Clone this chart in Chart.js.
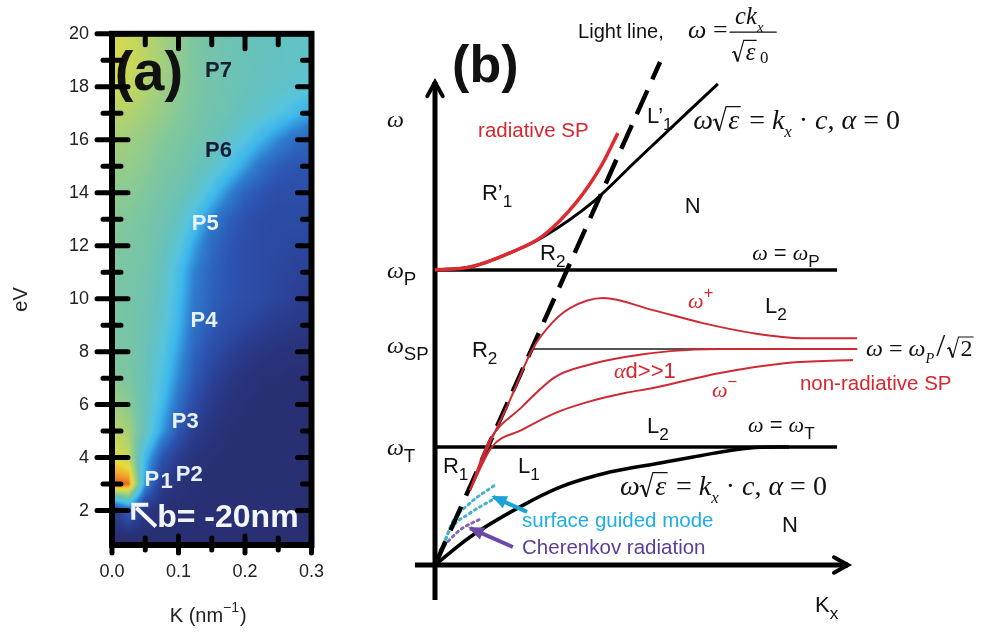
<!DOCTYPE html>
<html>
<head>
<meta charset="utf-8">
<script src="https://cdn.jsdelivr.net/npm/chart.js@4.4.0/dist/chart.umd.min.js"></script>
<style>
body { margin: 0; background: #fff; width: 982px; height: 632px; position: relative; overflow: hidden; }
canvas { position: absolute; top: 0; }
#chartA { left: 0; }
#chartB { left: 340px; }
</style>
</head>
<body>
<canvas id="chartA" width="340" height="632"></canvas>
<canvas id="chartB" width="642" height="632"></canvas>
<script>
const SANS = '"Liberation Sans", Arial, sans-serif';
const SERIF = '"Liberation Serif", "Times New Roman", serif';
const RED = '#d9262e';
const CYAN = '#1eaee6';
const PURPLE = '#5a3d99';

// ---- panel (a) : loss map, K (nm^-1) vs eV ----
const kGrid = [0, 0.025, 0.05, 0.075, 0.1, 0.125, 0.15, 0.175, 0.2, 0.225, 0.25, 0.275, 0.3];
const evGrid = [20, 19, 18, 17, 16, 15, 14, 13, 12, 11, 10, 9, 8, 7, 6, 5, 4, 3, 2, 1];
const intensity = [
    [0.90, 0.88, 0.84, 0.80, 0.76, 0.72, 0.69, 0.67, 0.65, 0.64, 0.63, 0.62, 0.62],
    [0.92, 0.89, 0.85, 0.80, 0.76, 0.72, 0.69, 0.67, 0.65, 0.64, 0.63, 0.62, 0.61],
    [0.90, 0.87, 0.83, 0.79, 0.75, 0.72, 0.69, 0.67, 0.65, 0.63, 0.62, 0.60, 0.58],
    [0.85, 0.83, 0.80, 0.77, 0.74, 0.71, 0.68, 0.66, 0.63, 0.60, 0.56, 0.50, 0.44],
    [0.81, 0.79, 0.77, 0.74, 0.72, 0.69, 0.66, 0.62, 0.56, 0.48, 0.40, 0.33, 0.30],
    [0.78, 0.77, 0.75, 0.72, 0.70, 0.66, 0.62, 0.54, 0.44, 0.34, 0.28, 0.25, 0.25],
    [0.76, 0.75, 0.73, 0.70, 0.67, 0.62, 0.52, 0.40, 0.30, 0.25, 0.22, 0.22, 0.22],
    [0.74, 0.73, 0.71, 0.68, 0.63, 0.52, 0.38, 0.29, 0.24, 0.21, 0.20, 0.20, 0.20],
    [0.73, 0.72, 0.70, 0.66, 0.58, 0.44, 0.32, 0.26, 0.22, 0.20, 0.19, 0.18, 0.18],
    [0.72, 0.71, 0.69, 0.64, 0.52, 0.38, 0.30, 0.25, 0.22, 0.20, 0.18, 0.16, 0.15],
    [0.71, 0.70, 0.68, 0.62, 0.50, 0.36, 0.29, 0.25, 0.22, 0.20, 0.17, 0.14, 0.12],
    [0.71, 0.70, 0.67, 0.60, 0.48, 0.34, 0.27, 0.22, 0.18, 0.14, 0.11, 0.09, 0.08],
    [0.72, 0.71, 0.66, 0.57, 0.44, 0.30, 0.22, 0.16, 0.10, 0.07, 0.05, 0.04, 0.04],
    [0.74, 0.72, 0.65, 0.54, 0.40, 0.26, 0.16, 0.09, 0.05, 0.03, 0.03, 0.02, 0.02],
    [0.79, 0.75, 0.65, 0.50, 0.34, 0.20, 0.10, 0.05, 0.03, 0.02, 0.02, 0.02, 0.02],
    [0.86, 0.80, 0.64, 0.44, 0.26, 0.12, 0.06, 0.03, 0.02, 0.02, 0.02, 0.02, 0.02],
    [0.94, 0.86, 0.50, 0.26, 0.12, 0.05, 0.03, 0.02, 0.02, 0.02, 0.02, 0.02, 0.02],
    [1.12, 1.10, 0.42, 0.12, 0.05, 0.03, 0.02, 0.02, 0.02, 0.02, 0.02, 0.02, 0.02],
    [0.10, 0.30, 0.08, 0.03, 0.02, 0.02, 0.02, 0.02, 0.02, 0.02, 0.02, 0.02, 0.02],
    [0.02, 0.02, 0.02, 0.02, 0.02, 0.02, 0.02, 0.02, 0.02, 0.02, 0.02, 0.02, 0.02]
];
const kTickLabels = [0, 0.1, 0.2, 0.3];
const evTickLabels = [2, 4, 6, 8, 10, 12, 14, 16, 18, 20];

// peak names and where they sit on the map
const peakNames = ['P7', 'P6', 'P5', 'P4', 'P3', 'P2'];
const peakK = [0.140, 0.140, 0.120, 0.118, 0.090, 0.096];
const peakEv = [18.38, 15.33, 12.60, 8.92, 5.13, 3.11];
const peakColors = ['#1a1f33', '#141b3a', '#e6f2f6', '#e6f2f6', '#e6f2f6', '#e6f2f6'];

// colour scale (value -> rgb)
const cmapStops = [
    [0.00, [40, 45, 110]],
    [0.12, [42, 60, 142]],
    [0.25, [44, 84, 176]],
    [0.38, [46, 126, 208]],
    [0.48, [60, 182, 236]],
    [0.56, [86, 196, 222]],
    [0.64, [102, 193, 188]],
    [0.72, [124, 198, 162]],
    [0.80, [164, 207, 124]],
    [0.88, [202, 216, 88]],
    [0.95, [232, 220, 60]],
    [1.02, [244, 176, 48]],
    [1.10, [238, 106, 36]],
    [1.20, [200, 42, 28]]
];

function colorAt(v) {
    if (v <= cmapStops[0][0]) return cmapStops[0][1];
    for (let i = 1; i < cmapStops.length; i++) {
        if (v <= cmapStops[i][0]) {
            const [v0, c0] = cmapStops[i - 1];
            const [v1, c1] = cmapStops[i];
            const t = (v - v0) / (v1 - v0);
            return [0, 1, 2].map(n => c0[n] + (c1[n] - c0[n]) * t);
        }
    }
    return cmapStops[cmapStops.length - 1][1];
}

function sampleIntensity(k, ev) {
    const dk = kGrid[1] - kGrid[0];
    const dE = evGrid[0] - evGrid[1];
    let fx = Math.max(0, Math.min(kGrid.length - 1, (k - kGrid[0]) / dk));
    let fy = Math.max(0, Math.min(evGrid.length - 1, (evGrid[0] - ev) / dE));
    const i0 = Math.min(Math.floor(fx), kGrid.length - 2);
    const j0 = Math.min(Math.floor(fy), evGrid.length - 2);
    const tx = fx - i0, ty = fy - j0;
    const r0 = intensity[j0], r1 = intensity[j0 + 1];
    const a = r0[i0] * (1 - tx) + r0[i0 + 1] * tx;
    const b = r1[i0] * (1 - tx) + r1[i0 + 1] * tx;
    return a * (1 - ty) + b * ty;
}

const heatPlugin = {
    id: 'heat',
    beforeDatasetsDraw(chart) {
        const {ctx, chartArea: a, scales: {x, y}} = chart;
        const w = Math.round(a.right - a.left), h = Math.round(a.bottom - a.top);
        const off = document.createElement('canvas');
        off.width = w;
        off.height = h;
        const octx = off.getContext('2d');
        const img = octx.createImageData(w, h);
        for (let j = 0; j < h; j++) {
            const ev = y.getValueForPixel(a.top + j + 0.5);
            for (let i = 0; i < w; i++) {
                const k = x.getValueForPixel(a.left + i + 0.5);
                const c = colorAt(sampleIntensity(k, ev));
                const p = (j * w + i) * 4;
                img.data[p] = c[0];
                img.data[p + 1] = c[1];
                img.data[p + 2] = c[2];
                img.data[p + 3] = 255;
            }
        }
        octx.putImageData(img, 0, 0);
        ctx.drawImage(off, a.left, a.top);
    }
};

const frameAPlugin = {
    id: 'frameA',
    afterDraw(chart) {
        const {ctx, chartArea: a, scales: {x, y}} = chart;
        ctx.save();
        // texts on the map
        ctx.textAlign = 'left';
        ctx.textBaseline = 'alphabetic';
        ctx.fillStyle = '#111';
        ctx.font = 'bold 56px ' + SANS;
        ctx.fillText('(a)', x.getPixelForValue(0.004), y.getPixelForValue(17.88));
        ctx.font = 'bold 22px ' + SANS;
        peakNames.forEach((n, i) => {
            ctx.fillStyle = peakColors[i];
            ctx.fillText(n, x.getPixelForValue(peakK[i]), y.getPixelForValue(peakEv[i]));
        });
        ctx.fillStyle = '#e6f2f6';
        ctx.fillText('P', x.getPixelForValue(0.049), y.getPixelForValue(2.92));
        ctx.fillText('1', x.getPixelForValue(0.073), y.getPixelForValue(2.85));
        ctx.font = 'bold 32px ' + SANS;
        ctx.fillStyle = '#f2f6fa';
        ctx.fillText('b= -20nm', x.getPixelForValue(0.068), y.getPixelForValue(1.38));
        // little white arrow
        const tx = x.getPixelForValue(0.066), ty = y.getPixelForValue(1.40);
        const hx = x.getPixelForValue(0.032), hy = y.getPixelForValue(2.22);
        ctx.strokeStyle = '#f2f6fa';
        ctx.lineWidth = 4;
        ctx.beginPath();
        ctx.moveTo(tx, ty);
        ctx.lineTo(hx + 3, hy + 3);
        ctx.stroke();
        ctx.beginPath();
        ctx.moveTo(hx, hy + 15);
        ctx.lineTo(hx, hy);
        ctx.lineTo(hx + 15, hy);
        ctx.stroke();

        // frame and ticks
        ctx.strokeStyle = '#000';
        ctx.lineWidth = 5;
        ctx.lineCap = 'round';
        ctx.beginPath();
        y.ticks.forEach(t => {
            if (!Number.isInteger(t.value)) return;
            const py = y.getPixelForValue(t.value);
            const major = evTickLabels.includes(t.value);
            ctx.moveTo(a.left - (major ? 15 : 9), py);
            ctx.lineTo(a.left + (major ? 16 : 9), py);
            ctx.moveTo(a.right - (major ? 14 : 9), py);
            ctx.lineTo(a.right, py);
        });
        x.ticks.forEach(t => {
            const px = x.getPixelForValue(t.value);
            const major = kTickLabels.some(v => Math.abs(v - t.value) < 1e-9);
            ctx.moveTo(px, a.top);
            ctx.lineTo(px, a.top + (major ? 15 : 11));
            ctx.moveTo(px, a.bottom - (major ? 9 : 7));
            ctx.lineTo(px, a.bottom + (major ? 8 : 5));
        });
        ctx.stroke();
        ctx.lineCap = 'butt';
        ctx.lineWidth = 6;
        ctx.strokeRect(a.left, a.top, a.right - a.left, a.bottom - a.top);

        // axis titles
        ctx.fillStyle = '#222';
        ctx.font = '20px ' + SANS;
        ctx.textAlign = 'center';
        ctx.save();
        ctx.translate(a.left - 92, (a.top + a.bottom) / 2 + 10);
        ctx.rotate(-Math.PI / 2);
        ctx.fillText('eV', 0, 7);
        ctx.restore();
        ctx.textAlign = 'left';
        const cx = (a.left + a.right) / 2 - 42;
        const by = a.bottom + 77;
        ctx.fillText('K (nm', cx, by);
        const w1 = ctx.measureText('K (nm').width;
        ctx.font = '14px ' + SANS;
        ctx.fillText('\u22121', cx + w1, by - 10);
        const w2 = ctx.measureText('\u22121').width;
        ctx.font = '20px ' + SANS;
        ctx.fillText(')', cx + w1 + w2 + 1, by);
        ctx.restore();
    }
};

new Chart(document.getElementById('chartA'), {
    type: 'scatter',
    data: {datasets: [{data: []}]},
    options: {
        responsive: false,
        animation: false,
        devicePixelRatio: 1,
        layout: {padding: {top: 21, right: 25, left: 0, bottom: 0}},
        plugins: {legend: {display: false}, tooltip: {enabled: false}},
        scales: {
            x: {
                type: 'linear', min: 0, max: 0.3,
                afterFit: s => { s.height = 87; },
                grid: {display: false, drawTicks: false},
                border: {display: false},
                ticks: {
                    stepSize: 0.05, autoSkip: false, maxRotation: 0, padding: 16,
                    color: '#222', font: {family: SANS, size: 18},
                    callback: v => kTickLabels.some(t => Math.abs(t - v) < 1e-9) ? v.toFixed(1) : ''
                }
            },
            y: {
                type: 'linear', min: 0.7, max: 20,
                afterFit: s => { s.width = 112; },
                grid: {display: false, drawTicks: false},
                border: {display: false},
                ticks: {
                    stepSize: 1, autoSkip: false, padding: 23,
                    color: '#222', font: {family: SANS, size: 18},
                    callback: v => evTickLabels.includes(v) ? String(v) : ''
                }
            }
        }
    },
    plugins: [heatPlugin, frameAPlugin]
});

// ---- panel (b) : dispersion sketch, units of omega_P ----
const lightLine = [[0, 0], [0.763, 1.705]];
const bulkUpper = [[0, 1.0], [0.119, 1.010], [0.254, 1.058], [0.366, 1.112], [0.536, 1.231], [0.685, 1.373], [0.864, 1.542], [0.959, 1.631]];
const radiativeSP = [[0, 1.0], [0.119, 1.010], [0.254, 1.058], [0.366, 1.116], [0.481, 1.232], [0.559, 1.345], [0.620, 1.464]];
const omegaPLine = [[0, 1.0], [1.363, 1.0]];
const omegaTLine = [[0, 0.4], [1.363, 0.4]];
const omegaSPLine = [[0.329, 0.732], [1.431, 0.732]];
const omegaPlus = [[0.119, 0.254], [0.180, 0.400], [0.254, 0.559], [0.329, 0.729], [0.400, 0.824], [0.458, 0.871], [0.569, 0.905], [0.739, 0.864], [0.908, 0.820], [1.078, 0.786], [1.247, 0.769], [1.431, 0.769]];
const omegaMid = [[0.119, 0.254], [0.180, 0.414], [0.295, 0.536], [0.407, 0.637], [0.519, 0.678], [0.644, 0.705], [0.797, 0.725], [0.966, 0.732], [1.431, 0.732]];
const omegaMinus = [[0.119, 0.254], [0.193, 0.400], [0.295, 0.458], [0.407, 0.515], [0.519, 0.553], [0.644, 0.583], [0.739, 0.600], [0.966, 0.651], [1.193, 0.685], [1.417, 0.695]];
const bulkLower = [[0, 0], [0.119, 0.095], [0.288, 0.197], [0.424, 0.264], [0.593, 0.315], [0.763, 0.346], [0.875, 0.366], [1.068, 0.397], [1.2, 0.4]];
const guidedMode1 = [[0.030, 0.068], [0.057, 0.141], [0.119, 0.210], [0.203, 0.271]];
const guidedMode2 = [[0.020, 0.050], [0.051, 0.119], [0.119, 0.176], [0.192, 0.220]];
const cherenkov = [[0.017, 0.051], [0.085, 0.119], [0.158, 0.158]];
const guidedArrow = [[0.312, 0.180], [0.197, 0.231]];
const cherenkovArrow = [[0.264, 0.061], [0.119, 0.125]];
const omegaAxis = [[0, -0.119], [0, 1.637]];
const kAxis = [[-0.068, 0], [1.40, 0]];

function curve(points, color, width, extra) {
    return Object.assign({
        data: points.map(([x, y]) => ({x, y})),
        showLine: true,
        borderColor: color,
        backgroundColor: color,
        borderWidth: width,
        pointRadius: 0,
        fill: false,
        cubicInterpolationMode: 'monotone'
    }, extra || {});
}
const straight = {cubicInterpolationMode: 'default', tension: 0};

const FORMULA = [
    {t: 'ω', k: 'i'}, {t: 'ε', k: 'rad'}, {t: ' = ', k: 'r'}, {t: 'k', k: 'i'}, {t: 'x', k: 'is'},
    {t: ' · ', k: 'r'}, {t: 'c', k: 'i'}, {t: ', ', k: 'r'}, {t: 'α', k: 'i'}, {t: ' = 0', k: 'r'}
];
const labelsB = [
    {x: 0.058, y: 1.637, size: 52, parts: [{t: '(b)', k: 'b'}]},
    {x: 0.485, y: 1.786, size: 20, parts: [{t: 'Light line,', k: 's'}]},
    {x: 0.858, y: 1.786, size: 26, frac: true},
    {x: -0.163, y: 1.485, size: 24, parts: [{t: 'ω', k: 'i'}]},
    {x: 0.146, y: 1.451, size: 20.5, color: RED, parts: [{t: 'radiative SP', k: 's'}]},
    {x: 0.719, y: 1.498, size: 22, parts: [{t: 'L’', k: 's'}, {t: '1', k: 'ss'}]},
    {x: 0.875, y: 1.478, size: 28, parts: FORMULA},
    {x: 0.159, y: 1.237, size: 22, parts: [{t: 'R’', k: 's'}, {t: '1', k: 'ss'}]},
    {x: 0.847, y: 1.193, size: 22, parts: [{t: 'N', k: 's'}]},
    {x: 0.356, y: 1.034, size: 22, parts: [{t: 'R', k: 's'}, {t: '2', k: 'ss'}]},
    {x: 1.075, y: 1.034, size: 22, parts: [{t: 'ω', k: 'i'}, {t: ' = ', k: 's'}, {t: 'ω', k: 'i'}, {t: 'P', k: 'ss'}]},
    {x: -0.163, y: 0.973, size: 24, parts: [{t: 'ω', k: 'i'}, {t: 'P', k: 'ss'}]},
    {x: 0.858, y: 0.871, size: 22, color: RED, parts: [{t: 'ω', k: 'i'}, {t: '+', k: 'sup'}]},
    {x: 1.119, y: 0.854, size: 22, parts: [{t: 'L', k: 's'}, {t: '2', k: 'ss'}]},
    {x: -0.163, y: 0.719, size: 24, parts: [{t: 'ω', k: 'i'}, {t: 'SP', k: 'ss'}]},
    {x: 0.125, y: 0.705, size: 22, parts: [{t: 'R', k: 's'}, {t: '2', k: 'ss'}]},
    {x: 1.461, y: 0.708, size: 24, parts: [{t: 'ω', k: 'i'}, {t: ' = ', k: 'r'}, {t: 'ω', k: 'i'}, {t: 'P', k: 'is'}, {t: '/', k: 'r', scale: 1.35, pad: 2}, {t: '2', k: 'radr'}]},
    {x: 0.607, y: 0.634, size: 22, color: RED, parts: [{t: 'α', k: 'i'}, {t: 'd>>1', k: 's'}]},
    {x: 0.939, y: 0.569, size: 22, color: RED, parts: [{t: 'ω', k: 'i'}, {t: '−', k: 'sup'}]},
    {x: 1.237, y: 0.593, size: 20.5, color: RED, parts: [{t: 'non-radiative SP', k: 's'}]},
    {x: 0.719, y: 0.447, size: 22, parts: [{t: 'L', k: 's'}, {t: '2', k: 'ss'}]},
    {x: 1.061, y: 0.451, size: 22, parts: [{t: 'ω', k: 'i'}, {t: ' = ', k: 's'}, {t: 'ω', k: 'i'}, {t: 'T', k: 'ss'}]},
    {x: -0.163, y: 0.373, size: 24, parts: [{t: 'ω', k: 'i'}, {t: 'T', k: 'ss'}]},
    {x: 0.027, y: 0.312, size: 22, parts: [{t: 'R', k: 's'}, {t: '1', k: 'ss'}]},
    {x: 0.281, y: 0.312, size: 22, parts: [{t: 'L', k: 's'}, {t: '1', k: 'ss'}]},
    {x: 0.627, y: 0.237, size: 28, parts: FORMULA},
    {x: 0.295, y: 0.129, size: 20.5, color: CYAN, parts: [{t: 'surface guided mode', k: 's'}]},
    {x: 1.176, y: 0.112, size: 22, parts: [{t: 'N', k: 's'}]},
    {x: 0.295, y: 0.037, size: 20.5, color: PURPLE, parts: [{t: 'Cherenkov radiation', k: 's'}]},
    {x: 1.288, y: -0.159, size: 22, parts: [{t: 'K', k: 's'}, {t: 'x', k: 'ss'}]}
];

function drawRadical(ctx, cx, y, s, w, color) {
    const top = y - 0.80 * s;
    ctx.strokeStyle = color;
    ctx.lineCap = 'butt';
    ctx.lineJoin = 'miter';
    ctx.lineWidth = Math.max(1, s * 0.045);
    ctx.beginPath();
    ctx.moveTo(cx, y - 0.30 * s);
    ctx.lineTo(cx + 0.09 * s, y - 0.36 * s);
    ctx.stroke();
    ctx.lineWidth = s * 0.08;
    ctx.beginPath();
    ctx.moveTo(cx + 0.09 * s, y - 0.36 * s);
    ctx.lineTo(cx + 0.23 * s, y + 0.06 * s);
    ctx.stroke();
    ctx.lineWidth = Math.max(1, s * 0.045);
    ctx.beginPath();
    ctx.moveTo(cx + 0.23 * s, y + 0.06 * s);
    ctx.lineTo(cx + 0.47 * s, top);
    ctx.lineTo(cx + 0.55 * s + w + 0.05 * s, top);
    ctx.stroke();
    return 0.55 * s;
}

function drawRich(ctx, x, y, parts, size, color) {
    let cx = x;
    ctx.textAlign = 'left';
    ctx.textBaseline = 'alphabetic';
    parts.forEach(p => {
        const k = p.k;
        let s = size * (p.scale || 1), dy = 0, fam = SANS, st = '';
        if (k === 'b') st = 'bold ';
        if (k === 'i' || k === 'is' || k === 'rad') { fam = SERIF; st = 'italic '; }
        if (k === 'r' || k === 'radr') fam = SERIF;
        if (k === 'ss' || k === 'is') { s = size * 0.78; dy = size * 0.3; }
        if (k === 'sup') { s = size * 0.75; dy = -size * 0.45; }
        if (k === 'is') s = size * 0.6;
        ctx.font = st + s + 'px ' + fam;
        ctx.fillStyle = color;
        const w = ctx.measureText(p.t).width;
        if (k === 'rad' || k === 'radr') {
            const off = drawRadical(ctx, cx, y, s, w, color);
            ctx.fillText(p.t, cx + off, y);
            cx += off + w + 0.1 * s;
        } else {
            ctx.fillText(p.t, cx + (p.pad || 0), y + dy);
            cx += w + 2 * (p.pad || 0);
        }
    });
}

// omega = c k_x / sqrt(eps_0)
function drawLightFormula(ctx, x, y, s, color) {
    drawRich(ctx, x, y, [{t: 'ω', k: 'i'}, {t: ' =', k: 'r'}], s, color);
    const bx = x + 42, by = y - 6;
    ctx.strokeStyle = color;
    ctx.lineWidth = 1.4;
    ctx.beginPath();
    ctx.moveTo(bx, by);
    ctx.lineTo(bx + 46, by);
    ctx.stroke();
    drawRich(ctx, bx + 5, y - 14, [{t: 'ck', k: 'i'}, {t: 'x', k: 'is'}], s * 0.95, color);
    drawRich(ctx, bx + 2, y + 22, [{t: 'ε', k: 'rad'}], s * 0.95, color);
    ctx.font = (s * 0.65) + 'px ' + SERIF;
    ctx.fillText('0', bx + 30, y + 25);
}

const labelBPlugin = {
    id: 'labelsB',
    afterDatasetsDraw(chart) {
        const {ctx, scales: {x, y}} = chart;
        ctx.save();
        // arrow heads
        chart.data.datasets.forEach((ds, i) => {
            if (!ds.head) return;
            const pts = chart.getDatasetMeta(i).data;
            const p1 = pts[pts.length - 1], p0 = pts[pts.length - 2];
            const ang = Math.atan2(p1.y - p0.y, p1.x - p0.x);
            ctx.strokeStyle = ds.borderColor;
            ctx.fillStyle = ds.borderColor;
            if (ds.head === 'open') {
                ctx.lineWidth = 4;
                ctx.lineCap = 'round';
                ctx.beginPath();
                ctx.moveTo(p1.x - 16 * Math.cos(ang - 0.5), p1.y - 16 * Math.sin(ang - 0.5));
                ctx.lineTo(p1.x, p1.y);
                ctx.lineTo(p1.x - 16 * Math.cos(ang + 0.5), p1.y - 16 * Math.sin(ang + 0.5));
                ctx.stroke();
            } else {
                ctx.beginPath();
                ctx.moveTo(p1.x + 2 * Math.cos(ang), p1.y + 2 * Math.sin(ang));
                ctx.lineTo(p1.x - 15 * Math.cos(ang - 0.45), p1.y - 15 * Math.sin(ang - 0.45));
                ctx.lineTo(p1.x - 15 * Math.cos(ang + 0.45), p1.y - 15 * Math.sin(ang + 0.45));
                ctx.closePath();
                ctx.fill();
            }
        });
        labelsB.forEach(l => {
            const px = x.getPixelForValue(l.x), py = y.getPixelForValue(l.y);
            if (l.frac) drawLightFormula(ctx, px, py, l.size, '#111');
            else drawRich(ctx, px, py, l.parts, l.size, l.color || '#111');
        });
        ctx.restore();
    }
};

const dots = {borderDash: [2, 4], borderCapStyle: 'round'};

new Chart(document.getElementById('chartB'), {
    type: 'scatter',
    data: {
        datasets: [
            curve(guidedArrow, '#1ba3d6', 4, Object.assign({head: 'filled'}, straight)),
            curve(cherenkovArrow, '#6a4aa6', 4, Object.assign({head: 'filled'}, straight)),
            curve(omegaPlus, '#cf2a33', 2),
            curve(omegaMid, '#cf2a33', 2),
            curve(omegaMinus, '#cf2a33', 2),
            curve(radiativeSP, '#de2a30', 3.5),
            curve(lightLine, '#000', 4.5, Object.assign({borderDash: [26, 12]}, straight)),
            curve(guidedMode1, '#45b3c8', 3, dots),
            curve(guidedMode2, '#45b3c8', 3, dots),
            curve(cherenkov, '#8567b0', 3, dots),
            curve(omegaSPLine, '#555', 2, straight),
            curve(bulkUpper, '#000', 3),
            curve(bulkLower, '#000', 3.5),
            curve(omegaPLine, '#000', 3.5, straight),
            curve(omegaTLine, '#000', 3.5, straight),
            curve(omegaAxis, '#000', 5, Object.assign({head: 'open'}, straight)),
            curve(kAxis, '#000', 5, Object.assign({head: 'open'}, straight))
        ]
    },
    options: {
        responsive: false,
        animation: false,
        devicePixelRatio: 1,
        layout: {padding: {left: 65.5, right: 16, top: 34, bottom: 8}},
        plugins: {legend: {display: false}, tooltip: {enabled: false}},
        scales: {
            x: {type: 'linear', min: -0.1, max: 1.8, display: false},
            y: {type: 'linear', min: -0.2, max: 1.8, display: false}
        }
    },
    plugins: [labelBPlugin]
});
</script>
</body>
</html>
